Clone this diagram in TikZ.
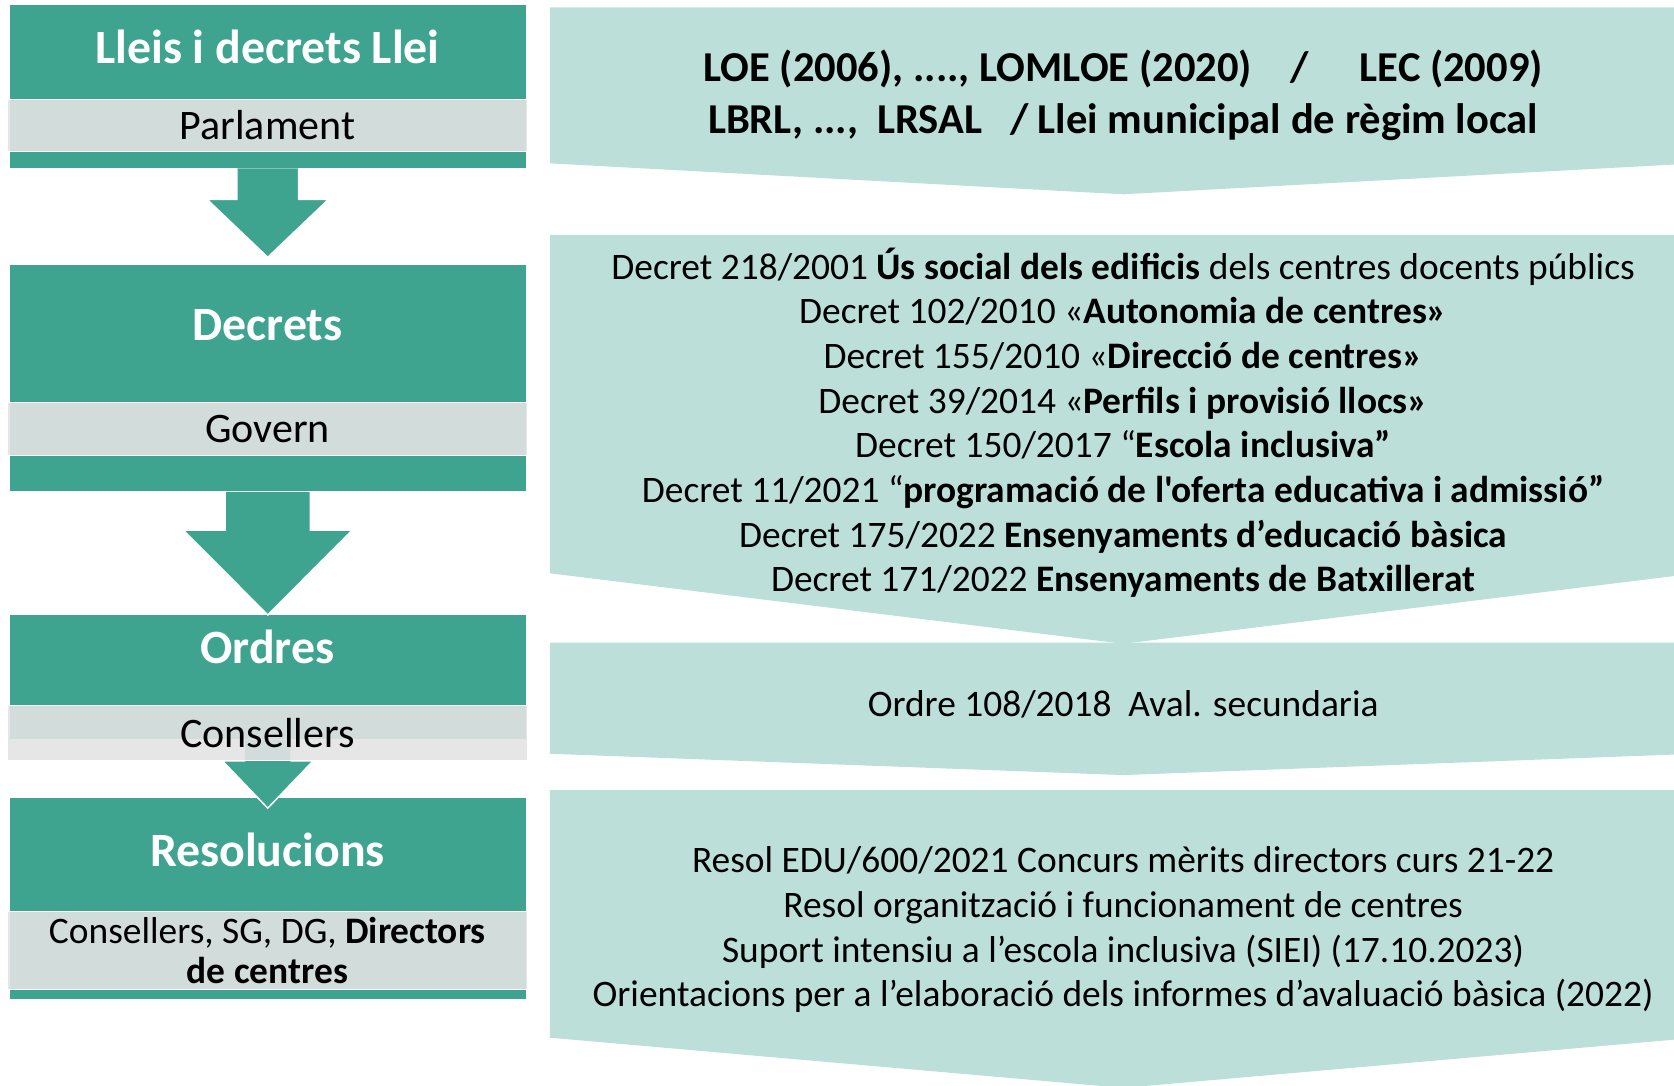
\documentclass[tikz,border=0pt]{standalone}
\usepackage{fontspec}
\setmainfont{Carlito}[Ligatures=TeXOff]
\usetikzlibrary{positioning, calc}
\definecolor{tealbox}{HTML}{3EA38F}
\definecolor{mintbox}{HTML}{BCE0D9}
\definecolor{bandgray}{HTML}{E3E3E3}
\tikzstyle{level} = [rectangle, fill=tealbox, minimum width=9.66cm, inner sep=0pt, anchor=north west]
\tikzstyle{title} = [text=white, inner sep=0pt, font=\fontsize{25.5}{30}\selectfont\bfseries]
\tikzstyle{band} = [rectangle, fill=bandgray, fill opacity=0.9, text opacity=1, draw=white, line width=0.5pt,
minimum width=9.74cm, inner sep=0pt, text=black, align=center, font=\fontsize{22.4}{26}\selectfont]
\tikzstyle{flow} = [fill=tealbox, draw=white, line width=0.8pt, line join=miter]
\tikzstyle{chevron} = [fill=mintbox]
\tikzstyle{lawtext} = [align=center, inner sep=0pt, font=\fontsize{19.95}{23.8}\selectfont]

\begin{document}
\begin{tikzpicture}[x=0.02cm, y=-0.02cm]
  \useasboundingbox (0,0) rectangle (1568,1017);
  \clip (0,0) rectangle (1568,1017);

  % left column
  \node (lleis) [level, minimum height=3.06cm] at (9,4) {};
  \node (decrets) [level, minimum height=4.24cm] at (9,248) {};
  \node (ordres) [level, minimum height=2.32cm] at (9,576) {};
  \node (resol) [level, minimum height=3.76cm] at (9,747) {};

  \node (lleis-t) [title] at (250.5,44) {Lleis i decrets Llei};
  \node (decrets-t) [title] at (250.5,305) {Decrets};
  \node (ordres-t) [title] at (250.5,606) {Ordres};
  \node (resol-t) [title] at (250.5,796) {Resolucions};

  \draw[flow] ($(lleis.south)+(-29,0)$) -- ($(lleis.south)+(-29,29)$) -- ($(lleis.south)+(-57,29)$)
  -- ($(decrets.north)+(0,-7)$) -- ($(lleis.south)+(57,29)$) -- ($(lleis.south)+(29,29)$) -- ($(lleis.south)+(29,0)$);

  \draw[flow] ($(decrets.south)+(-40,0)$) -- ($(decrets.south)+(-40,36)$) -- ($(decrets.south)+(-79,36)$)
  -- (ordres.north) -- ($(decrets.south)+(79,36)$) -- ($(decrets.south)+(40,36)$) -- ($(decrets.south)+(40,0)$);

  \draw[flow] ($(ordres.south)+(-22,0)$) -- ($(ordres.south)+(-22,20)$) -- ($(ordres.south)+(-42.5,20)$)
  -- ($(resol.north)+(0,10)$) -- ($(ordres.south)+(42.5,20)$) -- ($(ordres.south)+(22,20)$) -- ($(ordres.south)+(22,0)$);

  \node (parlament) [band, minimum height=0.98cm] at (250.5,117.5) {Parlament};
  \node (govern) [band, minimum height=1.0cm] at (250.5,402) {Govern};
  \node (consellers) [band, minimum height=1.02cm] at (250.5,686.5) {Consellers};
  \node (directors) [band, minimum height=1.46cm, font=\fontsize{19.95}{21.5}\selectfont] at (250.5,890.5)
  {Consellers, SG, DG, \textbf{Directors}\\ \textbf{de centres}};

  % right column
  \fill[chevron] (515,7) -- (1589,7) -- (1589,153) -- (1052,182) -- (515,153) -- cycle;
  \fill[chevron] (515,220) -- (1589,220) -- (1589,537) -- (1052,603) -- (515,537) -- cycle;
  \fill[chevron] (515,602) -- (1589,602) -- (1589,706) -- (1052,726) -- (515,706) -- cycle;
  \fill[chevron] (515,740) -- (1589,740) -- (1589,972) -- (1052,1019) -- (515,972) -- cycle;

  \node (lleis-l) [lawtext, font=\fontsize{22.7}{27.8}\selectfont\bfseries] at (1052,89)
  {LOE (2006), ...., LOMLOE (2020)\hspace{0.9em}/\hspace{1.2em}LEC (2009)\\
  LBRL, ...,\hspace{0.45em}LRSAL\hspace{0.65em}/ Llei municipal de règim local};
  \node (decrets-l) [lawtext] at (1052,396)
  {Decret 218/2001 \textbf{Ús social dels edificis} dels centres docents públics\\
  Decret 102/2010 «\textbf{Autonomia de centres»}\\
  Decret 155/2010 «\textbf{Direcció de centres»}\\
  Decret 39/2014 «\textbf{Perfils i provisió llocs»}\\
  Decret 150/2017 “\textbf{Escola inclusiva”}\\
  Decret 11/2021 “\textbf{programació de l'oferta educativa i admissió”}\\
  Decret 175/2022 \textbf{Ensenyaments d’educació bàsica}\\
  Decret 171/2022 \textbf{Ensenyaments de Batxillerat}};
  \node (ordres-l) [lawtext] at (1052,660) {Ordre 108/2018\hspace{0.45em}Aval. secundaria};
  \node (resol-l) [lawtext] at (1052,871)
  {Resol EDU/600/2021 Concurs mèrits directors curs 21-22\\
  Resol organització i funcionament de centres\\
  Suport intensiu a l’escola inclusiva (SIEI) (17.10.2023)\\
  Orientacions per a l’elaboració dels informes d’avaluació bàsica (2022)};
\end{tikzpicture}
\end{document}
